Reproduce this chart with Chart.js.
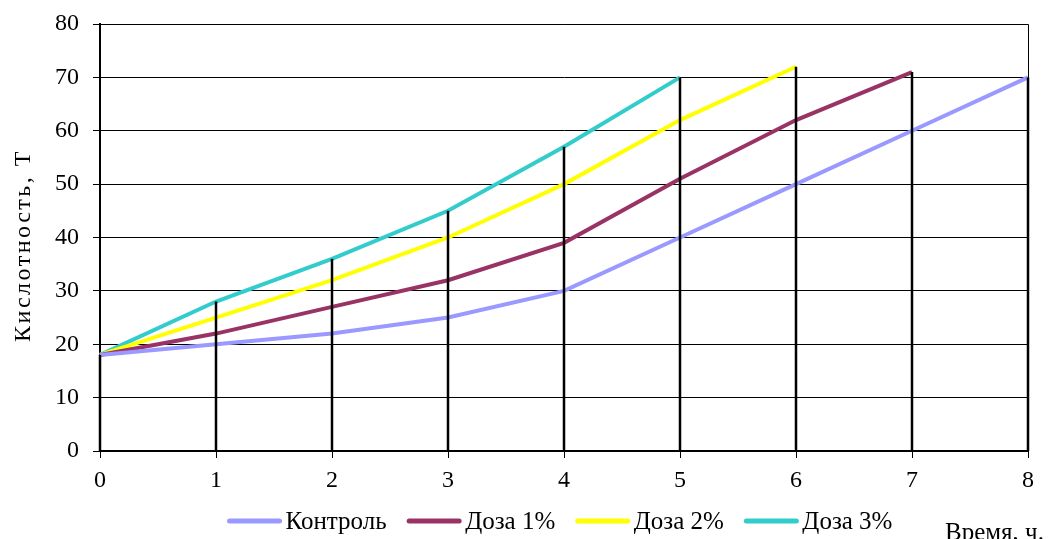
<!DOCTYPE html>
<html>
<head>
<meta charset="utf-8">
<script src="https://cdn.jsdelivr.net/npm/chart.js@4/dist/chart.umd.min.js"></script>
<style>
  html, body { margin: 0; padding: 0; background: #fff; }
  #wrap { width: 1048px; height: 539px; }
</style>
</head>
<body>
<div id="wrap"><canvas id="acidChart" width="1048" height="539"></canvas></div>
<script>
// hours on the x axis
const hours = ['0', '1', '2', '3', '4', '5', '6', '7', '8'];
const yTicks = [0, 10, 20, 30, 40, 50, 60, 70, 80];

// acidity, T
const control = [18, 20, 22, 25, 30, 40, 50, 60, 70];
const dose1 = [18, 22, 27, 32, 39, 51, 62, 71];
const dose2 = [18, 25, 32, 40, 50, 62, 72];
const dose3 = [18, 28, 36, 45, 57, 70];

const seriesNames = ['Контроль', 'Доза 1%', 'Доза 2%', 'Доза 3%'];
const seriesColors = ['#9999ff', '#993366', '#ffff00', '#33cccc'];

const FONT = "'Liberation Serif', 'Times New Roman', serif";

// drop lines from the highest curve down to zero at each hour
const dropLines = {
  id: 'dropLines',
  afterDatasetsDraw(chart) {
    const { ctx, scales: { x, y } } = chart;
    const all = [control, dose1, dose2, dose3];
    ctx.save();
    ctx.strokeStyle = '#000';
    ctx.lineWidth = 2.5;
    hours.forEach((h, i) => {
      const vals = all.map(s => s[i]).filter(v => v !== undefined);
      if (!vals.length) return;
      const px = x.getPixelForValue(i);
      ctx.beginPath();
      ctx.moveTo(px, y.getPixelForValue(0));
      ctx.lineTo(px, y.getPixelForValue(Math.max(...vals)));
      ctx.stroke();
    });
    ctx.restore();
  }
};

// plot frame, axis titles and the legend row
const decorations = {
  id: 'decorations',
  beforeDatasetsDraw(chart) {
    const { ctx, chartArea: a } = chart;
    ctx.save();
    ctx.strokeStyle = '#000';
    ctx.lineWidth = 1;
    ctx.beginPath();
    ctx.moveTo(a.left, a.top + 0.5);
    ctx.lineTo(a.right + 0.5, a.top + 0.5);
    ctx.lineTo(a.right + 0.5, a.bottom);
    ctx.stroke();
    ctx.restore();
  },
  afterDraw(chart) {
    const { ctx, chartArea: a } = chart;
    ctx.save();
    ctx.fillStyle = '#000';

    // y title, rotated, slightly spaced out
    ctx.save();
    ctx.translate(24, (a.top + a.bottom) / 2 + 8);
    ctx.rotate(-Math.PI / 2);
    ctx.font = '24px ' + FONT;
    if ('letterSpacing' in ctx) ctx.letterSpacing = '2.5px';
    ctx.textAlign = 'center';
    ctx.textBaseline = 'middle';
    ctx.fillText('Кислотность, Т', 0, 0);
    ctx.restore();

    // x caption
    ctx.font = '25px ' + FONT;
    ctx.textBaseline = 'alphabetic';
    ctx.textAlign = 'left';
    ctx.fillText('Время, ч.', 945, 540);

    // legend
    const lineLen = 54, textGap = 4, itemGap = 20.5, legendY = 521;
    const widths = seriesNames.map(n => ctx.measureText(n).width);
    const total = widths.reduce((s, w) => s + lineLen + textGap + w, 0) + itemGap * (seriesNames.length - 1);
    let x = 560 - total / 2;
    ctx.textBaseline = 'middle';
    seriesNames.forEach((name, i) => {
      ctx.strokeStyle = seriesColors[i];
      ctx.lineWidth = 5;
      ctx.lineCap = 'round';
      ctx.beginPath();
      ctx.moveTo(x + 2, legendY);
      ctx.lineTo(x + lineLen - 2, legendY);
      ctx.stroke();
      ctx.fillText(name, x + lineLen + textGap, legendY + 1);
      x += lineLen + textGap + widths[i] + itemGap;
    });
    ctx.restore();
  }
};

new Chart(document.getElementById('acidChart'), {
  type: 'line',
  data: {
    labels: hours,
    datasets: [control, dose1, dose2, dose3].map((d, i) => ({
      label: seriesNames[i],
      data: d,
      borderColor: seriesColors[i],
      backgroundColor: seriesColors[i],
      borderWidth: 4,
      pointRadius: 0,
      tension: 0,
      fill: false
    }))
  },
  options: {
    responsive: false,
    animation: false,
    layout: { padding: { top: 24, right: 20, left: 0, bottom: 0 } },
    plugins: {
      tooltip: { enabled: false },
      legend: { display: false }
    },
    scales: {
      x: {
        offset: false,
        grid: { drawOnChartArea: false, drawTicks: true, tickLength: 7, color: '#000' },
        border: { color: '#000', width: 2 },
        ticks: { color: '#000', font: { family: FONT, size: 24 }, padding: 8, maxRotation: 0 },
        afterFit(scale) { scale.height = 88; }
      },
      y: {
        min: 0,
        max: 80,
        afterBuildTicks(scale) { scale.ticks = yTicks.map(v => ({ value: v })); },
        grid: { color: '#000', lineWidth: 1, tickLength: 7 },
        border: { color: '#000', width: 2 },
        ticks: { color: '#000', font: { family: FONT, size: 24 }, padding: 14 },
        afterFit(scale) {
          scale.width = 100;
          scale.paddingTop = 0;
          scale.paddingBottom = 0;
        }
      }
    }
  },
  plugins: [dropLines, decorations]
});
</script>
</body>
</html>
